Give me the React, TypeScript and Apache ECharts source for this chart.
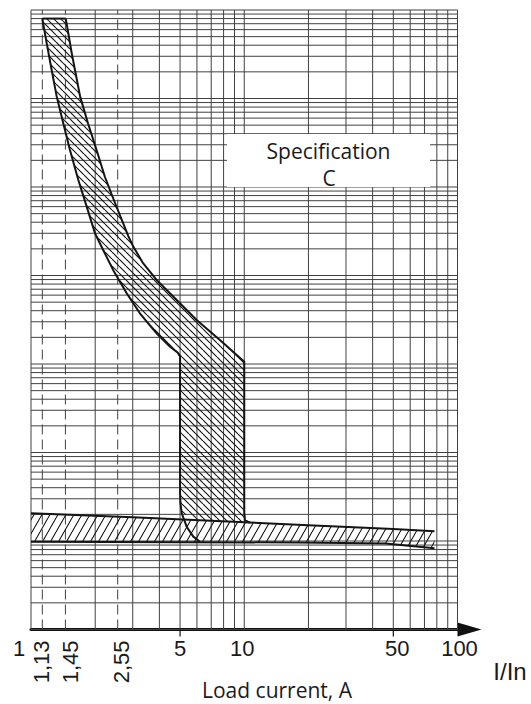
import React, { useEffect, useRef } from 'react';
import * as echarts from 'echarts';

// ---- axis ranges ----
const X_MIN = 1;
const X_MAX = 100;
const Y_MIN = 0.01;
const Y_MAX = 100000;

// ---- grid lines ----
const xGridLines = [1, 2, 3, 4, 5, 6, 7, 8, 9, 10, 20, 30, 40, 50, 60, 70, 80, 90, 100];
const xDashedLines = [1.13, 1.45, 2.55];
const yDecades = [0.01, 0.1, 1, 10, 100, 1000, 10000];
const yMultipliers = [1, 2, 3, 4, 5, 6, 7, 8, 9];

// ---- tick labels ----
const xLabels = ['1', '5', '10', '50', '100'];
const xLabelValues = [1, 5, 10, 50, 100];
const xRotLabels = ['1,13', '1,45', '2,55'];
const xRotLabelValues = [1.13, 1.45, 2.55];
const xTickValues = [5, 50];

// ---- curves: [I/In, time s] ----
const leftCurve: number[][] = [
  [1.13, 80000], [1.185, 42000], [1.25, 21000], [1.32, 10500], [1.417, 5250],
  [1.523, 2620], [1.667, 1200], [1.825, 600], [1.995, 300], [2.18, 194],
  [2.43, 115], [2.81, 63], [3.24, 37.4], [3.88, 22.2], [4.49, 15.7],
  [4.88, 13.4], [5, 12.2], [5, 0.35], [5.02, 0.27], [5.09, 0.206],
  [5.37, 0.145], [5.77, 0.112], [6.2, 0.098],
];
const rightCurve: number[][] = [
  [1.455, 80000], [1.496, 54600], [1.553, 32400], [1.608, 21000], [1.7, 10500],
  [1.85, 5250], [2.03, 2620], [2.22, 1306], [2.48, 655], [2.745, 356],
  [2.86, 279], [3.02, 211], [3.36, 137], [3.88, 89], [4.82, 52.8],
  [5.98, 31.4], [7.69, 18.7], [10, 10.6], [10, 0.21], [10.08, 0.172], [10.64, 0.16],
];
const bandTop: number[][] = [
  [1, 0.206], [3, 0.185], [6.2, 0.172], [10, 0.163], [20, 0.151], [50, 0.137], [78, 0.129],
];
const bandBottom: number[][] = [
  [1, 0.098], [18, 0.0962], [46, 0.0937], [78, 0.0827],
];

// ---- texts ----
const boxTitle = ['Specification', 'C'];
const xAxisName = 'I/In';
const xAxisTitle = 'Load current, A';

// ---- styles ----
const xLabelDx = [-12, 0, -2, 4, 2];
const xRotLabelDx = [-1, 5, 4];
const gridColor = '#404040';
const curveColor = '#141414';
const textColor = '#1a1a1a';
const numFont = '"Liberation Sans", Arial, sans-serif';
const textFont = '"Open Sans", "Noto Sans", sans-serif';

function makeHatch(w: number, h: number, dir: 'back' | 'fwd', color: string, lw: number) {
  const c = document.createElement('canvas');
  c.width = w;
  c.height = h;
  const ctx = c.getContext('2d')!;
  ctx.strokeStyle = color;
  ctx.lineWidth = lw;
  ctx.beginPath();
  for (const dx of [-w, 0, w]) {
    if (dir === 'back') {
      ctx.moveTo(dx, 0);
      ctx.lineTo(dx + w, h);
    } else {
      ctx.moveTo(dx, h);
      ctx.lineTo(dx + w, 0);
    }
  }
  ctx.stroke();
  return c;
}

export default function App() {
  const ref = useRef<HTMLDivElement>(null);
  useEffect(() => {
    const chart = echarts.init(ref.current!, null, { renderer: 'svg' });
    const backCanvas = makeHatch(7, 7, 'back', '#111', 1.1);
    const fwdCanvas = makeHatch(8, 14, 'fwd', '#111', 1.1);
    const backPattern: any = { image: backCanvas, repeat: 'repeat', imageWidth: 7, imageHeight: 7 };
    const fwdPattern: any = { image: fwdCanvas, repeat: 'repeat', imageWidth: 8, imageHeight: 14 };

    const yGridLines = [
      ...yDecades.flatMap((d) => yMultipliers.map((m) => +(d * m).toPrecision(3))),
      Y_MAX,
    ];

    const lineEl = (a: number[], b: number[], style: any) => ({
      type: 'line',
      shape: { x1: a[0], y1: a[1], x2: b[0], y2: b[1] },
      style,
    });

    chart.setOption({
      animation: false,
      grid: { left: 31, right: 73.5, top: 10, bottom: 74.5, containLabel: false },
      xAxis: {
        type: 'log',
        logBase: 10,
        min: X_MIN,
        max: X_MAX,
        axisLine: {
          show: true,
          lineStyle: { color: '#111', width: 3 },
          symbol: ['none', 'triangle'],
          symbolSize: [14, 24],
          symbolOffset: [0, 12],
        },
        axisTick: { show: false },
        axisLabel: { show: false },
        splitLine: { show: false },
        minorTick: { show: false },
        minorSplitLine: { show: false },
      },
      yAxis: {
        type: 'log',
        logBase: 10,
        min: Y_MIN,
        max: Y_MAX,
        show: false,
        splitLine: { show: false },
      },
      series: [
        {
          type: 'custom',
          name: 'grid',
          silent: true,
          z: 1,
          data: [[1, 1]],
          renderItem: (_p: any, api: any) => {
            const children: any[] = [];
            for (const v of xGridLines) {
              children.push(lineEl(api.coord([v, Y_MIN]), api.coord([v, Y_MAX]), { stroke: gridColor, lineWidth: 1 }));
            }
            for (const v of yGridLines) {
              children.push(lineEl(api.coord([X_MIN, v]), api.coord([X_MAX, v]), { stroke: gridColor, lineWidth: 1 }));
            }
            for (const v of xDashedLines) {
              children.push(lineEl(api.coord([v, Y_MIN]), api.coord([v, Y_MAX]), { stroke: gridColor, lineWidth: 1, lineDash: [10, 5] }));
            }
            return { type: 'group', children };
          },
        },
        {
          type: 'custom',
          name: 'hatch',
          silent: true,
          z: 2,
          data: [[1, 1]],
          renderItem: (_p: any, api: any) => {
            const cPoly = [
              ...leftCurve.filter((p) => p[1] >= 0.2),
              ...bandTop.filter((p) => p[0] > 5.2 && p[0] <= 10),
              ...rightCurve.filter((p) => p[1] >= 0.165).slice().reverse(),
            ].map((p) => api.coord(p));
            const bPoly = [...bandTop, ...bandBottom.slice().reverse()].map((p) => api.coord(p));
            return {
              type: 'group',
              children: [
                { type: 'polygon', shape: { points: cPoly }, style: { fill: backPattern, stroke: 'none' } },
                { type: 'polygon', shape: { points: bPoly }, style: { fill: fwdPattern, stroke: 'none' } },
              ],
            };
          },
        },
        {
          type: 'custom',
          name: 'curves',
          silent: true,
          z: 3,
          data: [[1, 1]],
          renderItem: (_p: any, api: any) => {
            const st = { stroke: curveColor, lineWidth: 2, fill: 'none', lineJoin: 'round' };
            const pl = (pts: number[][]) => ({
              type: 'polyline',
              shape: { points: pts.map((p) => api.coord(p)) },
              style: st,
            });
            return {
              type: 'group',
              children: [
                pl(leftCurve),
                pl(rightCurve),
                pl([leftCurve[0], rightCurve[0]]),
                pl(bandTop),
                pl(bandBottom),
              ],
            };
          },
        },
        {
          type: 'custom',
          name: 'labels',
          silent: true,
          z: 4,
          data: [[1, 1]],
          renderItem: (_p: any, api: any) => {
            const children: any[] = [];
            xLabels.forEach((t, i) => {
              const c = api.coord([xLabelValues[i], Y_MIN]);
              children.push({
                type: 'text',
                x: c[0] + xLabelDx[i],
                y: c[1] + 19,
                style: { text: t, fill: textColor, fontSize: 22, fontFamily: numFont, align: 'center', verticalAlign: 'middle' },
              });
            });
            xRotLabels.forEach((t, i) => {
              const c = api.coord([xRotLabelValues[i], Y_MIN]);
              children.push({
                type: 'text',
                x: c[0] + xRotLabelDx[i],
                y: c[1] + 11,
                rotation: Math.PI / 2,
                style: { text: t, fill: textColor, fontSize: 22, fontFamily: numFont, align: 'right', verticalAlign: 'middle' },
              });
            });
            xTickValues.forEach((v) => {
              const c = api.coord([v, Y_MIN]);
              children.push(lineEl([c[0], c[1]], [c[0], c[1] + 7], { stroke: '#111', lineWidth: 1.2 }));
            });
            return { type: 'group', children };
          },
        },
      ],
      graphic: [
        { type: 'rect', z: 10, left: 227, top: 134, shape: { width: 203, height: 53 }, style: { fill: '#fff' } },
        {
          type: 'text', z: 11, x: 328.5, y: 151,
          style: { text: boxTitle[0], fill: textColor, fontSize: 21, fontFamily: textFont, align: 'center', verticalAlign: 'middle' },
        },
        {
          type: 'text', z: 11, x: 329, y: 178,
          style: { text: boxTitle[1], fill: textColor, fontSize: 21, fontFamily: textFont, align: 'center', verticalAlign: 'middle' },
        },
        {
          type: 'text', z: 11, x: 510, y: 671,
          style: { text: xAxisName, fill: textColor, fontSize: 24, fontFamily: numFont, align: 'center', verticalAlign: 'middle' },
        },
        {
          type: 'text', z: 11, x: 277, y: 690,
          style: { text: xAxisTitle, fill: textColor, fontSize: 21, fontFamily: textFont, align: 'center', verticalAlign: 'middle' },
        },
      ],
    });
    return () => chart.dispose();
  }, []);
  return (
    <div
      ref={ref}
      style={{ position: 'fixed', left: 0, top: 0, width: 531, height: 704, background: '#fff' }}
    />
  );
}
